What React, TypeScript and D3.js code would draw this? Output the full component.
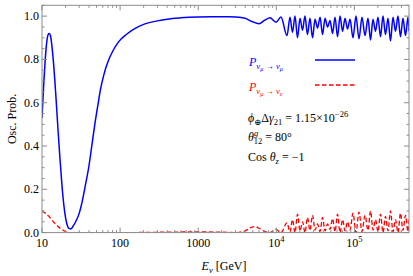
import React, { useEffect, useRef } from 'react'
import * as d3 from 'd3'

const width = 413
const height = 276

const xTicks = [10, 100, 1000, 1e4, 1e5]
const xTickBase = ['10', '100', '1000', '10', '10']
const xTickExp = ['', '', '', '4', '5']
const yTicks = [0, 0.2, 0.4, 0.6, 0.8, 1.0]
const yTickLabels = ['0.0', '0.2', '0.4', '0.6', '0.8', '1.0']

// [E in GeV, probability]
const pMuMu: [number, number][] = [
  [10, 0.53], [10.5, 0.68], [11, 0.8], [11.5, 0.88], [12, 0.915], [12.4, 0.92], [13, 0.9],
  [13.5, 0.85], [14, 0.79], [15, 0.64], [16, 0.48], [17, 0.34], [18, 0.22], [19, 0.13],
  [20, 0.07], [21, 0.035], [22, 0.02], [23, 0.017], [24, 0.02], [25, 0.03], [27, 0.05],
  [30, 0.09], [33, 0.15], [36, 0.22], [40, 0.31], [43, 0.39], [47, 0.49], [52, 0.59],
  [56, 0.66], [62, 0.73], [70, 0.79], [81, 0.84], [95, 0.88], [120, 0.915], [150, 0.94],
  [200, 0.962], [300, 0.978], [400, 0.986], [600, 0.992], [1000, 0.996], [1500, 0.997],
  [2500, 0.997], [3050, 0.996], [3975, 0.99], [4885, 0.975], [6000, 0.965], [7165, 0.982],
  [8300, 0.992], [9910, 0.972], [11480, 0.996], [13710, 0.91], [14970, 0.995], [16110, 0.925],
  [17350, 1.0], [18680, 0.9], [20110, 0.99], [21650, 0.935], [23290, 1.0], [25060, 0.915],
  [26980, 0.99], [29090, 0.9], [31330, 0.985], [33730, 0.945], [36310, 0.995], [39080, 0.915],
  [42070, 0.99], [45290, 0.95], [48750, 0.98], [52480, 0.92], [56490, 0.995], [60810, 0.905],
  [65460, 1.0], [70470, 0.93], [75860, 0.99], [81660, 0.94], [87900, 0.985], [95940, 0.9],
  [104700, 1.0], [114500, 0.895], [125000, 0.995], [136700, 0.91], [149300, 0.99],
  [160700, 0.89], [173000, 0.985], [186200, 0.93], [200400, 0.995], [215800, 0.905],
  [232300, 1.0], [250000, 0.915], [269200, 0.99], [289700, 0.885], [311900, 0.995],
  [335700, 0.93], [361400, 1.0], [389000, 0.905], [418800, 0.99], [450800, 0.91],
  [485300, 0.995], [500000, 0.93],
]

const pMuE: [number, number][] = [
  [10, 0.1], [11, 0.09], [12.6, 0.07], [14, 0.05], [15.4, 0.035], [17, 0.02], [18.8, 0.01],
  [20.5, 0.003], [23, 0.0], [100, 0.0], [1000, 0.003], [2000, 0.002], [3050, 0.0],
  [3975, 0.008], [4885, 0.025], [5400, 0.028], [6000, 0.02], [7165, 0.005], [8300, 0.0],
  [9910, 0.015], [11480, 0.0], [13710, 0.045], [14970, 0.003], [16110, 0.06], [17350, 0.0],
  [18680, 0.085], [20110, 0.008], [21650, 0.05], [23290, 0.0], [25060, 0.07], [26980, 0.01],
  [29090, 0.08], [31330, 0.012], [33730, 0.04], [36310, 0.005], [39080, 0.07], [42070, 0.008],
  [45290, 0.04], [48750, 0.015], [52480, 0.065], [56490, 0.004], [60810, 0.085], [65460, 0.0],
  [70470, 0.06], [75860, 0.008], [81660, 0.05], [87900, 0.012], [95940, 0.09], [104700, 0.0],
  [114500, 0.095], [125000, 0.004], [136700, 0.08], [149300, 0.01], [160700, 0.1],
  [173000, 0.012], [186200, 0.06], [200400, 0.004], [215800, 0.085], [232300, 0.0],
  [250000, 0.075], [269200, 0.008], [289700, 0.1], [311900, 0.004], [335700, 0.06],
  [361400, 0.0], [389000, 0.09], [418800, 0.01], [450800, 0.08], [485300, 0.004],
  [500000, 0.06],
]

const serif = '"Liberation Serif", "DejaVu Serif", serif'
const frameColor = '#8c8c8c'

export default function App() {
  const ref = useRef<SVGSVGElement>(null)

  useEffect(() => {
    const svg = d3.select(ref.current)
    svg.selectAll('*').remove()

    const x = d3.scaleLog().domain([10, 5e5]).range([42, 409])
    const y = d3.scaleLinear().domain([0, 1.05]).range([232.6, 5.3])
    const [x0, x1] = x.range()
    const [y0, y1] = y.range()

    const line = d3.line<[number, number]>()
      .x(d => x(d[0]))
      .y(d => y(d[1]))
      .curve(d3.curveMonotoneX)

    const clip = svg.append('clipPath').attr('id', 'plotclip')
    clip.append('rect').attr('x', x0).attr('y', y1).attr('width', x1 - x0).attr('height', y0 - y1)

    const plot = svg.append('g').attr('clip-path', 'url(#plotclip)')
    plot.append('path')
      .attr('d', line(pMuE))
      .attr('fill', 'none')
      .attr('stroke', '#ff0000')
      .attr('stroke-width', 1.3)
      .attr('stroke-dasharray', '4.5,2.5')
    plot.append('path')
      .attr('d', line(pMuMu))
      .attr('fill', 'none')
      .attr('stroke', '#0000ff')
      .attr('stroke-width', 1.5)

    // frame
    const frame = svg.append('g').attr('stroke', frameColor).attr('fill', 'none')
    frame.append('rect').attr('x', x0).attr('y', y1).attr('width', x1 - x0).attr('height', y0 - y1)
      .attr('stroke-width', 1)

    // x ticks (log, major + minor), bottom and top
    const xMinor: number[] = []
    for (let p = 1; p <= 5; p++) {
      for (let k = 2; k <= 9; k++) {
        const v = k * Math.pow(10, p)
        if (v < 5e5) xMinor.push(v)
      }
    }
    xTicks.forEach(v => {
      frame.append('line').attr('x1', x(v)).attr('x2', x(v)).attr('y1', y0).attr('y2', y0 - 5)
      frame.append('line').attr('x1', x(v)).attr('x2', x(v)).attr('y1', y1).attr('y2', y1 + 5)
    })
    xMinor.forEach(v => {
      frame.append('line').attr('x1', x(v)).attr('x2', x(v)).attr('y1', y0).attr('y2', y0 - 2.5)
      frame.append('line').attr('x1', x(v)).attr('x2', x(v)).attr('y1', y1).attr('y2', y1 + 2.5)
    })

    // y ticks, left and right
    const yMinor = d3.range(0, 1.0501, 0.05).filter(v => Math.abs(v * 5 - Math.round(v * 5)) > 1e-6)
    yTicks.forEach(v => {
      frame.append('line').attr('x1', x0).attr('x2', x0 + 5).attr('y1', y(v)).attr('y2', y(v))
      frame.append('line').attr('x1', x1).attr('x2', x1 - 5).attr('y1', y(v)).attr('y2', y(v))
    })
    yMinor.forEach(v => {
      frame.append('line').attr('x1', x0).attr('x2', x0 + 2.5).attr('y1', y(v)).attr('y2', y(v))
      frame.append('line').attr('x1', x1).attr('x2', x1 - 2.5).attr('y1', y(v)).attr('y2', y(v))
    })

    // tick labels
    const labels = svg.append('g').attr('font-family', serif).attr('font-size', 12).attr('fill', '#000')
    yTicks.forEach((v, i) => {
      labels.append('text').attr('x', x0 - 3).attr('y', y(v) + 4).attr('text-anchor', 'end').text(yTickLabels[i])
    })
    xTicks.forEach((v, i) => {
      const t = labels.append('text').attr('x', x(v)).attr('y', 247).attr('text-anchor', 'middle')
      t.append('tspan').text(xTickBase[i])
      if (xTickExp[i]) t.append('tspan').attr('font-size', 8.5).attr('dy', -5).text(xTickExp[i])
    })

    // axis titles
    labels.append('text')
      .attr('transform', `translate(16,${(y0 + y1) / 2}) rotate(-90)`)
      .attr('text-anchor', 'middle')
      .text('Osc. Prob.')
    const xt = labels.append('text').attr('x', 224).attr('y', 270).attr('text-anchor', 'middle')
    xt.append('tspan').attr('font-style', 'italic').text('E')
    xt.append('tspan').attr('font-style', 'italic').attr('font-size', 8.5).attr('dy', 3).text('ν')
    xt.append('tspan').attr('dy', -3).text(' [GeV]')

    // legend
    const lg = svg.append('g').attr('font-family', serif).attr('font-size', 12)
    const mkP = (yy: number, color: string, last: string) => {
      const t = lg.append('text').attr('x', 249).attr('y', yy).attr('fill', color).attr('font-style', 'italic')
      t.append('tspan').text('P')
      t.append('tspan').attr('font-size', 8.5).attr('dy', 3).text('ν')
      t.append('tspan').attr('font-size', 6).attr('dy', 2).text('μ')
      t.append('tspan').attr('font-size', 8.5).attr('dy', -2).attr('font-style', 'normal').text(' → ')
      t.append('tspan').attr('font-size', 8.5).text('ν')
      t.append('tspan').attr('font-size', 6).attr('dy', 2).text(last)
    }
    mkP(66, '#0000ff', 'μ')
    lg.append('line').attr('x1', 315).attr('x2', 355).attr('y1', 60).attr('y2', 60)
      .attr('stroke', '#0000ff').attr('stroke-width', 1.5)
    mkP(91, '#ff0000', 'e')
    lg.append('line').attr('x1', 315).attr('x2', 355).attr('y1', 85).attr('y2', 85)
      .attr('stroke', '#ff0000').attr('stroke-width', 1.3).attr('stroke-dasharray', '4.5,2.5')

    const t1 = lg.append('text').attr('x', 248).attr('y', 122)
    t1.append('tspan').attr('font-style', 'italic').text('ϕ')
    t1.append('tspan').attr('font-size', 8.5).attr('dy', 3).text('⊕')
    t1.append('tspan').attr('dy', -3).text('Δ')
    t1.append('tspan').attr('font-style', 'italic').text('γ')
    t1.append('tspan').attr('font-size', 8.5).attr('dy', 3).text('21')
    t1.append('tspan').attr('dy', -3).text(' = 1.15×10')
    t1.append('tspan').attr('font-size', 8.5).attr('dy', -5).text('−26')

    const t2 = lg.append('text').attr('x', 248).attr('y', 141)
    t2.append('tspan').attr('font-style', 'italic').text('θ')
    t2.append('tspan').attr('font-style', 'italic').attr('font-size', 8.5).attr('dy', -5).text('g')
    t2.append('tspan').attr('font-size', 8.5).attr('dx', -4.5).attr('dy', 8).text('12')
    t2.append('tspan').attr('dy', -3).text(' = 80°')

    const t3 = lg.append('text').attr('x', 248).attr('y', 161)
    t3.append('tspan').text('Cos ')
    t3.append('tspan').attr('font-style', 'italic').text('θ')
    t3.append('tspan').attr('font-style', 'italic').attr('font-size', 8.5).attr('dy', 3).text('z')
    t3.append('tspan').attr('dy', -3).text(' = −1')
  }, [])

  return (
    <svg
      ref={ref}
      width={width}
      height={height}
      style={{ position: 'absolute', left: 0, top: 0, background: '#fff' }}
    />
  )
}
